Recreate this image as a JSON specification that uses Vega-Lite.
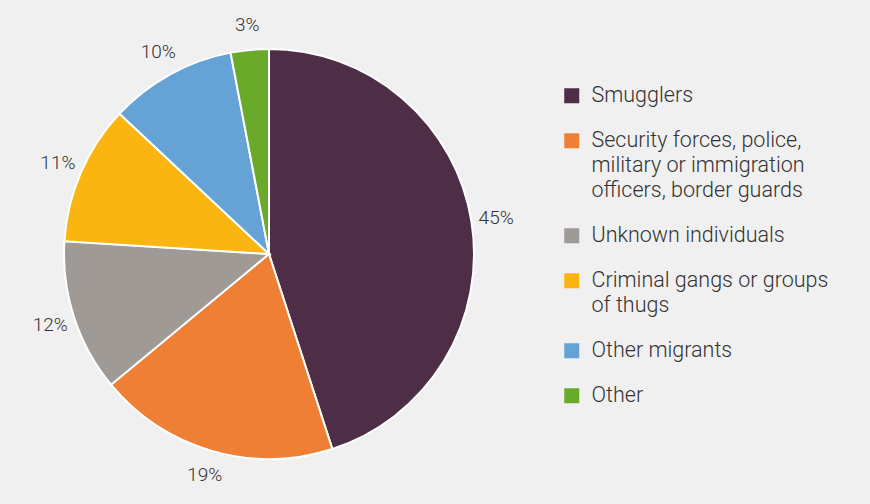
{
  "$schema": "https://vega.github.io/schema/vega-lite/v6.json",
  "width": 538,
  "height": 500,
  "padding": {"top": 4, "left": 0, "right": 332, "bottom": 0},
  "autosize": {"type": "none"},
  "background": "#f0f0f0",
  "config": {
    "view": {"stroke": null},
    "font": "Roboto",
    "style": {"guide-label": {"lineHeight": 25}}
  },
  "data": {
    "values": [
      {"category": "Smugglers", "value": 45, "order": 1, "label": "45%"},
      {"category": "Security forces, police, military or immigration officers, border guards", "value": 19, "order": 2, "label": "19%"},
      {"category": "Unknown individuals", "value": 12, "order": 3, "label": "12%"},
      {"category": "Criminal gangs or groups of thugs", "value": 11, "order": 4, "label": "11%"},
      {"category": "Other migrants", "value": 10, "order": 5, "label": "10%"},
      {"category": "Other", "value": 3, "order": 6, "label": "3%"}
    ]
  },
  "encoding": {
    "theta": {"field": "value", "type": "quantitative", "stack": true},
    "order": {"field": "order", "type": "quantitative"}
  },
  "layer": [
    {
      "mark": {"type": "arc", "outerRadius": 205, "stroke": "white", "strokeWidth": 2},
      "encoding": {
        "color": {
          "field": "category",
          "type": "nominal",
          "scale": {
            "domain": ["Smugglers", "Security forces, police, military or immigration officers, border guards", "Unknown individuals", "Criminal gangs or groups of thugs", "Other migrants", "Other"],
            "range": ["#4e2d47", "#ef7f35", "#a09a96", "#fbb511", "#65a3d7", "#6aaa2a"]
          },
          "legend": {
            "title": null,
            "orient": "none",
            "legendX": 561,
            "legendY": 81,
            "padding": 0,
            "symbolType": "square",
            "symbolSize": 225,
            "symbolStrokeWidth": 0,
            "symbolOpacity": 1,
            "labelFont": "Roboto",
            "labelFontSize": 21.5,
            "labelFontWeight": 300,
            "labelColor": "#333333",
            "labelLimit": 300,
            "labelOffset": 9,
            "rowPadding": 22,
            "labelExpr": "datum.label == 'Security forces, police, military or immigration officers, border guards' ? ['Security forces, police,', 'military or immigration', 'officers, border guards'] : datum.label == 'Criminal gangs or groups of thugs' ? ['Criminal gangs or groups', 'of thugs'] : datum.label"
          }
        }
      }
    },
    {
      "mark": {"type": "text", "radius": 230, "font": "Roboto", "fontSize": 19, "fontWeight": 300, "fill": "#333333"},
      "encoding": {
        "text": {"field": "label", "type": "nominal"}
      }
    }
  ]
}
